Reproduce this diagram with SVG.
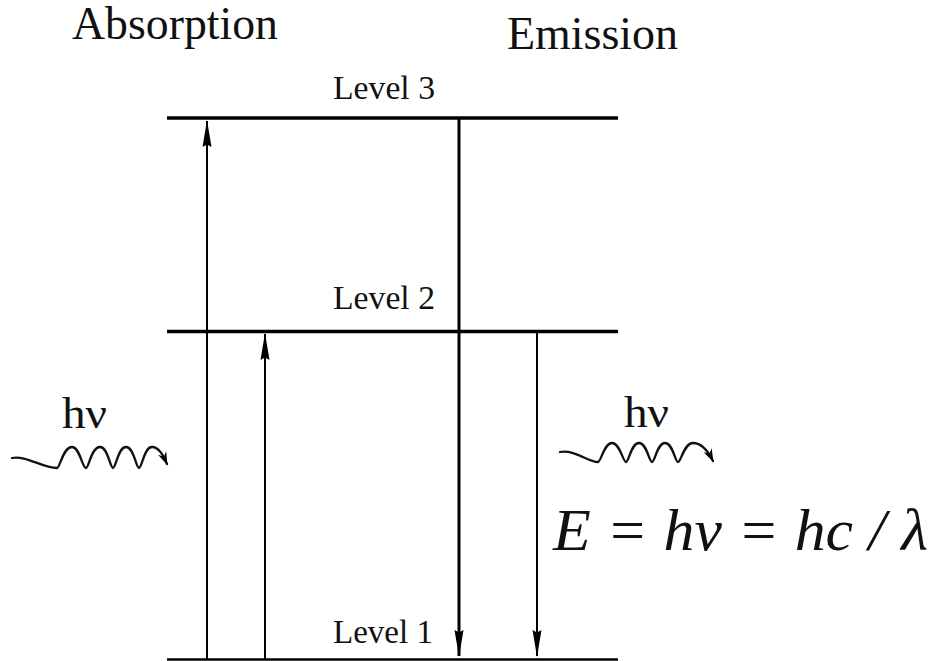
<svg xmlns="http://www.w3.org/2000/svg" width="932" height="661" viewBox="0 0 932 661">
<style>
.t{font-family:"Liberation Serif","Times New Roman",Times,Tinos,"Nimbus Roman","Nimbus Roman No9 L","Noto Serif","DejaVu Serif",FreeSerif,serif;fill:#111}
.lvl{stroke:#000;stroke-width:3.5;fill:none}
.ar{stroke:#000;stroke-width:2;fill:none}
.wave{stroke:#111;stroke-width:2.3;fill:none;stroke-linecap:round;stroke-linejoin:round}
</style>
<defs>
<marker id="ah" markerUnits="userSpaceOnUse" markerWidth="28" markerHeight="10" viewBox="0 0 28 10" refX="27" refY="5" orient="auto">
<path d="M28,5 L1,0.5 L3.5,5 L1,9.5 Z" fill="#000"/>
</marker>
<marker id="wh" markerUnits="userSpaceOnUse" markerWidth="14" markerHeight="10" viewBox="0 0 14 10" refX="12" refY="5" orient="auto">
<path d="M13,5 L0,0.5 L4,5 L0,9.5 Z" fill="#000"/>
</marker>
</defs>
<rect width="932" height="661" fill="#fff"/>
<text class="t" x="72" y="39" font-size="47" textLength="206" lengthAdjust="spacingAndGlyphs">Absorption</text>
<text class="t" x="507" y="49" font-size="46" textLength="171" lengthAdjust="spacingAndGlyphs">Emission</text>
<g id="level3">
<line class="lvl" x1="167" y1="118" x2="618" y2="118"/>
<text class="t" x="333" y="99" font-size="33" textLength="102" lengthAdjust="spacingAndGlyphs">Level 3</text>
</g>
<g id="level2">
<line class="lvl" x1="167" y1="331.5" x2="618" y2="331.5"/>
<text class="t" x="333" y="309" font-size="33" textLength="102" lengthAdjust="spacingAndGlyphs">Level 2</text>
</g>
<g id="level1">
<line x1="167" y1="659.5" x2="618" y2="659.5" stroke="#000" stroke-width="2.5"/>
<text class="t" x="333" y="643" font-size="33" textLength="100" lengthAdjust="spacingAndGlyphs">Level 1</text>
</g>
<g id="connectors">
<line class="ar" x1="207" y1="659" x2="207" y2="121" marker-end="url(#ah)"/>
<line class="ar" x1="265" y1="659" x2="265" y2="334" marker-end="url(#ah)"/>
<line x1="459" y1="118" x2="459" y2="656" stroke="#000" stroke-width="3" marker-end="url(#ah)"/>
<line class="ar" x1="537" y1="331" x2="537" y2="656" marker-end="url(#ah)"/>
</g>
<g id="photon-in">
<text class="t" x="62" y="428" font-size="44" textLength="45" lengthAdjust="spacingAndGlyphs">hν</text>
<path class="wave" d="M12,458 C26,455 42,468 57,468 C60,468 63,447 72,447 C80,447 82,468 86,468 C89,468 91,447 100,447 C108,447 110,468 113,468 C116,468 118,447 126,447 C134,447 136,468 139,468 C142,468 144,447 152,447 C159,447 163,455 167,464" marker-end="url(#wh)"/>
</g>
<g id="photon-out">
<text class="t" x="624" y="427" font-size="44" textLength="45" lengthAdjust="spacingAndGlyphs">hν</text>
<path class="wave" d="M560,452 C574,449 588,462 598,462 C601,462 604,443 612,443 C620,443 623,462 626,462 C629,462 631,443 639,443 C647,443 649,462 652,462 C655,462 657,443 665,443 C673,443 675,462 678,462 C681,462 684,443 693,443 C702,443 709,453 713,461" marker-end="url(#wh)"/>
</g>
<g id="equation">
<text class="t" x="553" y="550" font-size="60" font-style="italic" textLength="375" lengthAdjust="spacingAndGlyphs">E = hν = hc / λ</text>
</g>
</svg>
